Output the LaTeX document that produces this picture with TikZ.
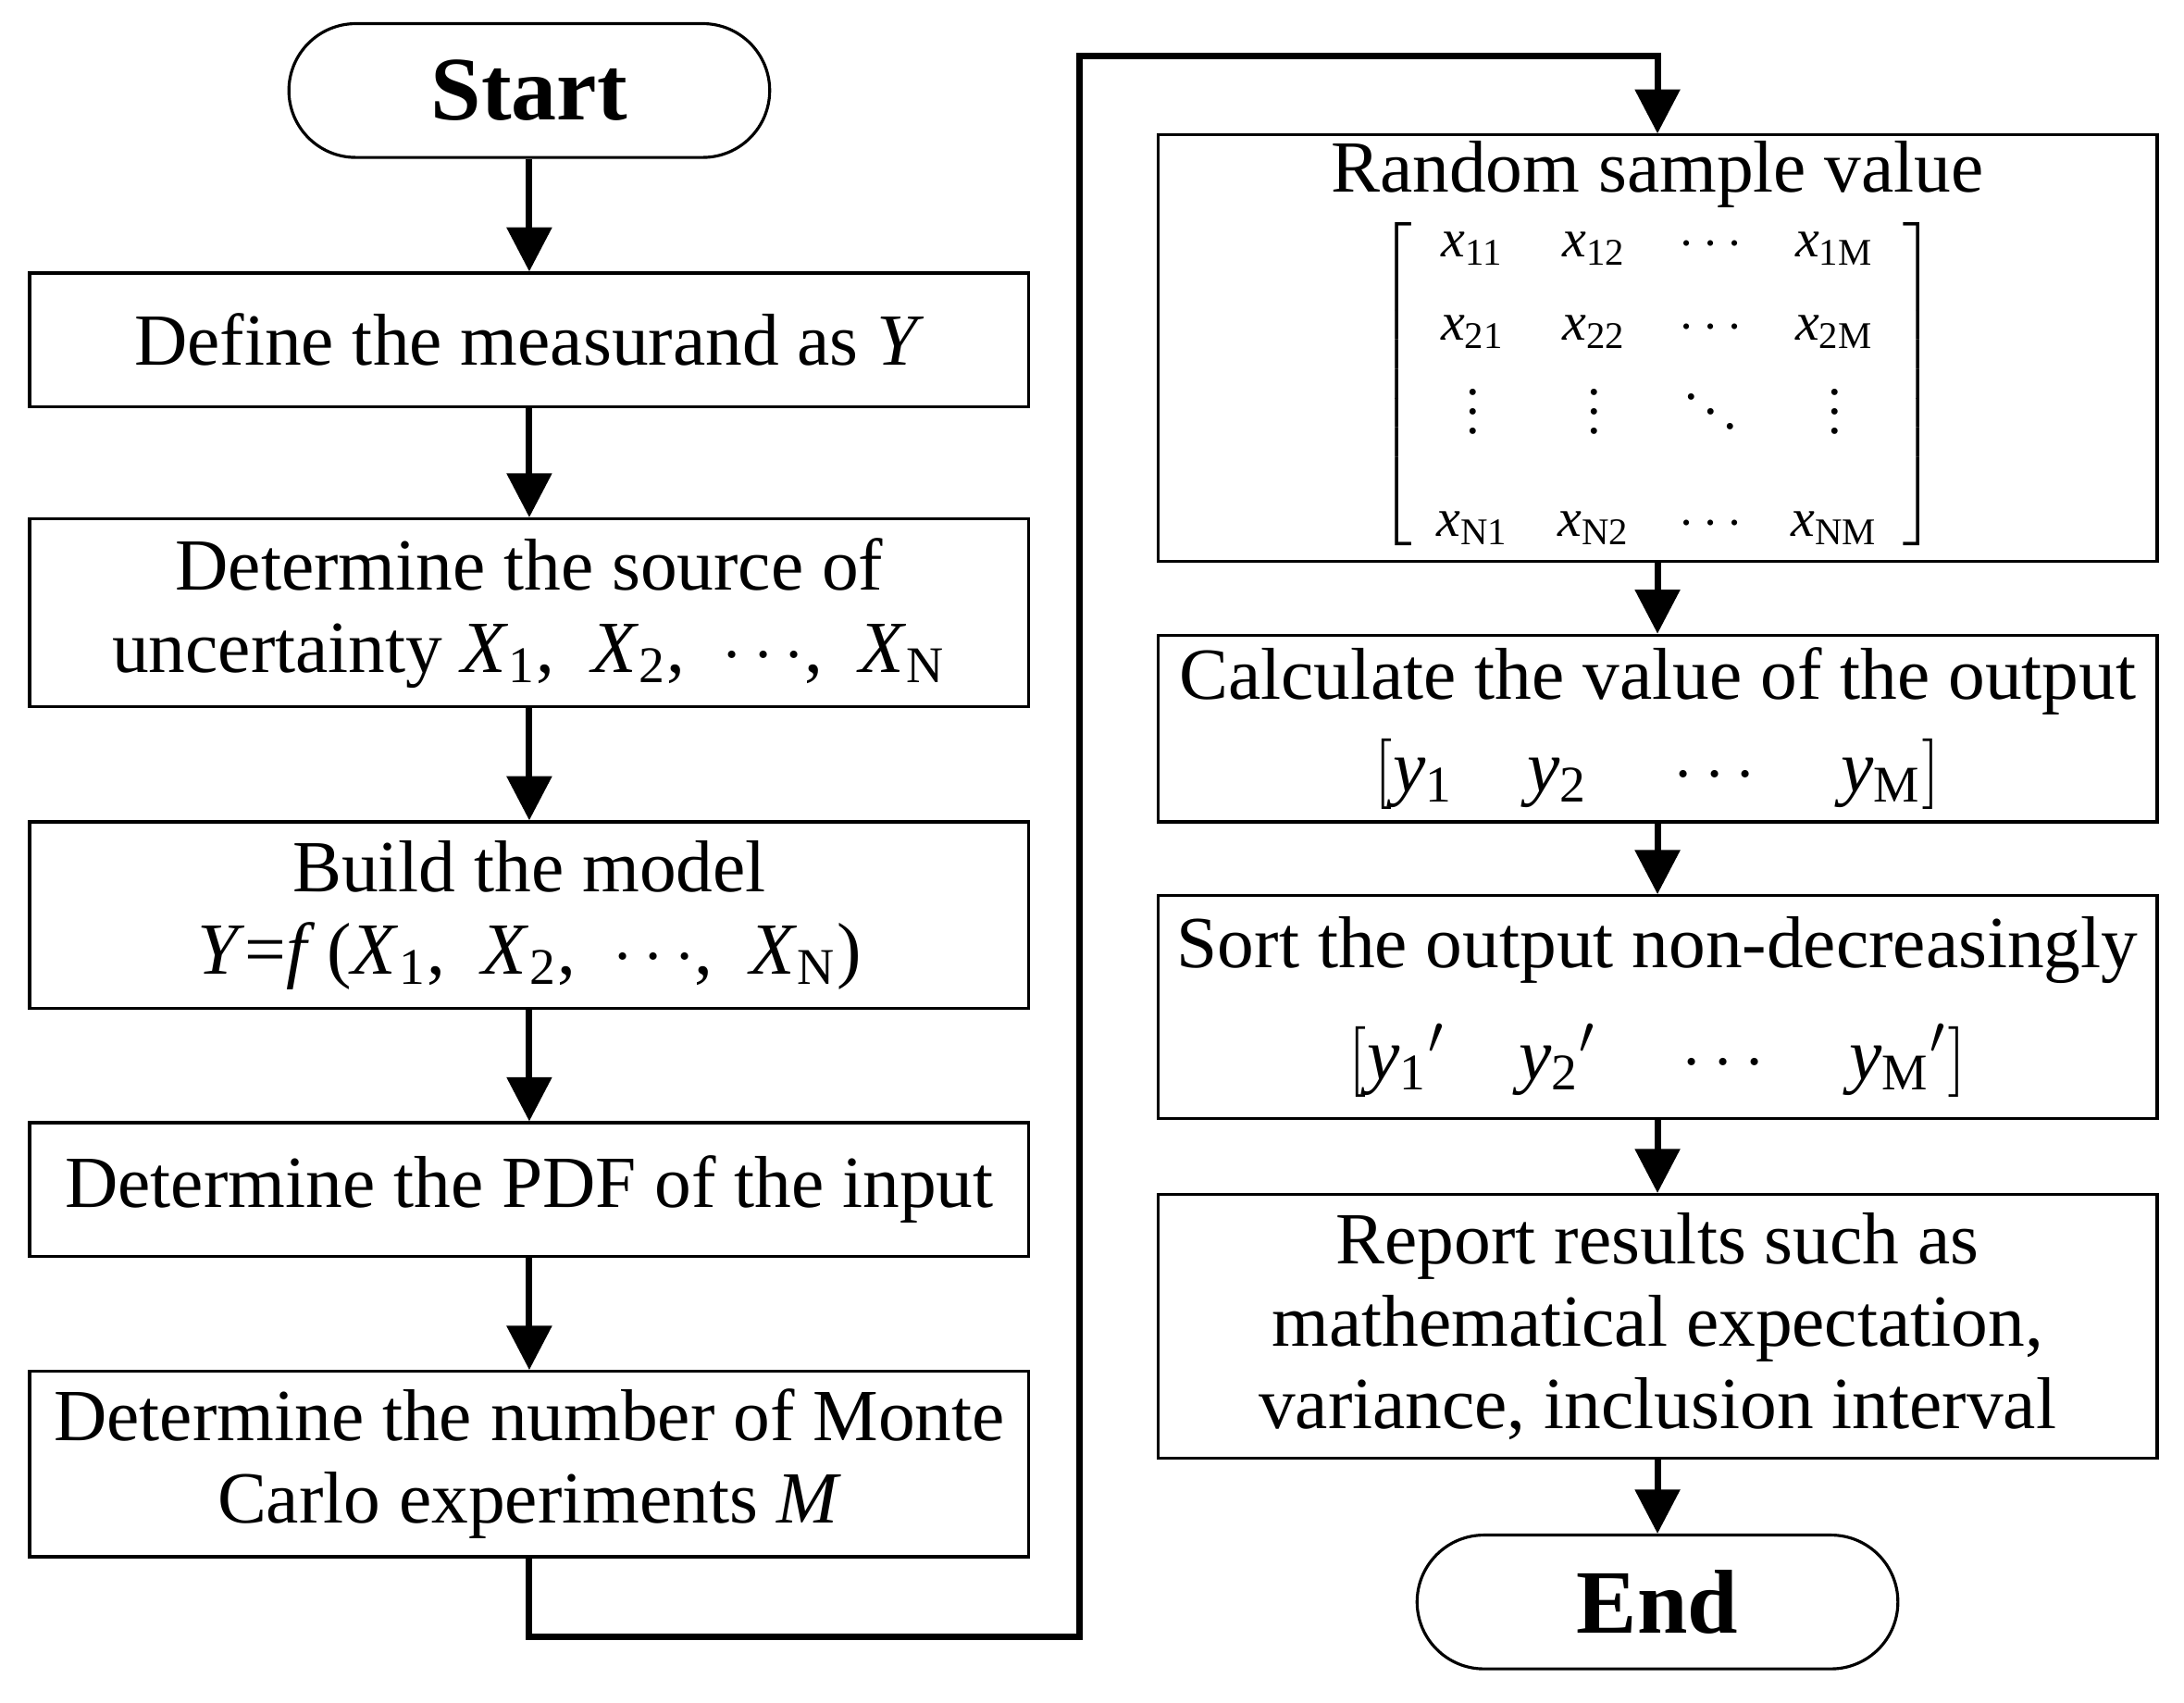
\documentclass[tikz,border=0pt]{standalone}
\usepackage{fontspec}
\setmainfont{Liberation Serif}
\usetikzlibrary{arrows.meta}
\begin{document}
\begin{tikzpicture}[x=0.01cm,y=-0.01cm,
  box/.style={draw,line width=0.6pt,minimum width=7.17cm,align=center,font=\fontsize{15}{16.8}\selectfont,inner sep=0pt},
  term/.style={draw,line width=0.6pt,rounded corners=0.48cm,minimum width=3.45cm,minimum height=0.96cm,font=\fontsize{18.5}{22}\selectfont\bfseries},
  arr/.style={line width=1.3pt,-{Triangle[length=9pt,width=9pt]}}]
\useasboundingbox (0,0) rectangle (1568,1222);
\newcommand{\xs}[1]{\textit{x}\textsubscript{#1}}
\node[term] (start) at (380,65) {Start};
\node[box,minimum height=0.96cm] (b1) at (380,244) {Define the measurand as \textit{Y}};
\node[box,minimum height=1.35cm] (b2) at (380,440) {Determine the source of\\uncertainty \textit{X}\textsubscript{1},\enspace \textit{X}\textsubscript{2},\enspace $\cdots$,\enspace \textit{X}\textsubscript{N}};
\node[box,minimum height=1.34cm] (b3) at (380,657) {Build the model\\\textit{Y}=\textit{f}\,(\textit{X}\textsubscript{1},\enspace \textit{X}\textsubscript{2},\enspace $\cdots$,\enspace \textit{X}\textsubscript{N})};
\node[box,minimum height=0.96cm] (b4) at (380,854) {Determine the PDF of the input};
\node[box,minimum height=1.33cm] (b5) at (380,1051) {Determine the number of Monte\\Carlo experiments \textit{M}};
\node[box,minimum height=3.06cm] (r1) at (1190,250) {Random sample value\\[0pt]
{\fontsize{11}{13}\selectfont$\left[\begin{array}{cccc}
\hbox{\xs{11}}&\hbox{\xs{12}}&\cdots&\hbox{\xs{1M}}\\[4pt]
\hbox{\xs{21}}&\hbox{\xs{22}}&\cdots&\hbox{\xs{2M}}\\
\vdots&\vdots&\ddots&\vdots\\[8pt]
\hbox{\xs{N1}}&\hbox{\xs{N2}}&\cdots&\hbox{\xs{NM}}
\end{array}\right]$}};
\node[box,minimum height=1.34cm] (r2) at (1190,523) {Calculate the value of the output\\[2pt]
$\left[\hbox{\textit{y}\textsubscript{1}}\quad\hbox{\textit{y}\textsubscript{2}}\quad\cdots\quad\hbox{\textit{y}\textsubscript{M}}\right]$};
\node[box,minimum height=1.60cm] (r3) at (1190,723) {Sort the output non-decreasingly\\[6pt]
$\left[\hbox{\textit{y}\textsubscript{1}$'$}\quad\hbox{\textit{y}\textsubscript{2}$'$}\quad\cdots\quad\hbox{\textit{y}\textsubscript{M}$'$}\right]$};
\node[box,minimum height=1.89cm] (r4) at (1190,952) {Report results such as\\mathematical expectation,\\variance, inclusion interval};
\node[term] (end) at (1190,1150) {End};
\draw[arr] (start) -- (b1);
\draw[arr] (b1) -- (b2);
\draw[arr] (b2) -- (b3);
\draw[arr] (b3) -- (b4);
\draw[arr] (b4) -- (b5);
\coordinate (c1) at (380,1175);
\coordinate (c2) at (775,1175);
\coordinate (c3) at (775,40);
\coordinate (c4) at (1190,40);
\draw[arr] (b5.south) -- (c1) -- (c2) -- (c3) -- (c4) -- (r1.north);
\draw[arr] (r1) -- (r2);
\draw[arr] (r2) -- (r3);
\draw[arr] (r3) -- (r4);
\draw[arr] (r4) -- (end);
\end{tikzpicture}
\end{document}
